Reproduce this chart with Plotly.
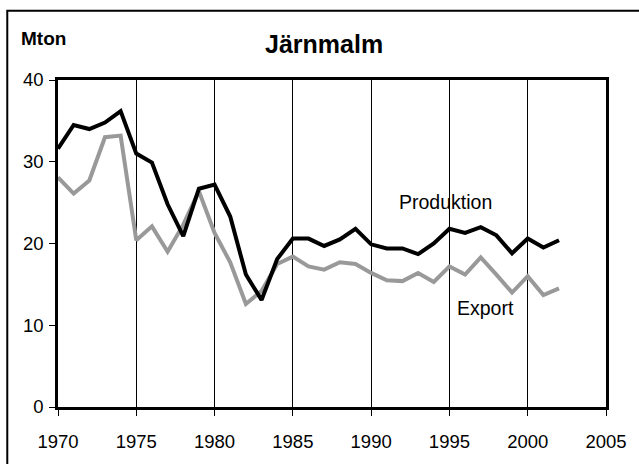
import plotly.graph_objects as go

years = list(range(1970, 2003))
produktion = [31.6, 34.5, 34.0, 34.8, 36.2, 31.0, 29.9, 24.8, 20.9, 26.7,
              27.2, 23.3, 16.2, 13.1, 18.1, 20.6, 20.6, 19.7, 20.5, 21.8,
              19.9, 19.4, 19.4, 18.7, 20.0, 21.8, 21.3, 22.0, 21.0, 18.8,
              20.6, 19.5, 20.4]
export = [28.1, 26.1, 27.7, 33.0, 33.2, 20.4, 22.1, 19.0, 22.3, 26.4,
          21.3, 17.7, 12.6, 14.2, 17.5, 18.4, 17.2, 16.8, 17.7, 17.5,
          16.4, 15.5, 15.4, 16.4, 15.3, 17.2, 16.2, 18.3, 16.2, 14.0,
          16.0, 13.7, 14.5]
x_ticks = [1970, 1975, 1980, 1985, 1990, 1995, 2000, 2005]
y_ticks = [0, 10, 20, 30, 40]

font = "Liberation Sans, Arial, sans-serif"

fig = go.Figure()
fig.add_trace(go.Scatter(x=years, y=export, mode="lines", name="Export",
                         line=dict(color="#999999", width=4), showlegend=False))
fig.add_trace(go.Scatter(x=years, y=produktion, mode="lines", name="Produktion",
                         line=dict(color="#000000", width=4), showlegend=False))

W, H = 639, 464
L, R, T, B = 58, 30, 80, 53
pw, ph = W - L - R, H - T - B

def px_x(p):
    return (p - L) / pw

def px_y(p):
    return (H - B - p) / ph

fig.update_layout(
    width=W, height=H,
    margin=dict(l=L, r=R, t=T, b=B),
    paper_bgcolor="white", plot_bgcolor="white",
    font=dict(family=font, size=18.5, color="black"),
    xaxis=dict(range=[1970, 2005], tickvals=x_ticks, ticks="outside", ticklen=6,
               tickwidth=1, tickcolor="black", showgrid=True, gridcolor="black",
               gridwidth=1, showline=True, linecolor="black", linewidth=2.5,
               mirror=True, zeroline=False, ticklabelstandoff=10),
    yaxis=dict(range=[0, 40], tickvals=y_ticks, ticks="outside", ticklen=6,
               tickwidth=1, tickcolor="black", showgrid=False,
               showline=True, linecolor="black", linewidth=2.5, mirror=True,
               zeroline=False, ticklabelstandoff=2),
    annotations=[
        dict(text="<b>Järnmalm</b>", x=px_x(325), y=px_y(44), xref="paper", yref="paper",
             showarrow=False, font=dict(size=25, family=font), xanchor="center", yanchor="middle"),
        dict(text="<b>Mton</b>", x=px_x(19), y=px_y(38), xref="paper", yref="paper",
             showarrow=False, font=dict(size=19, family=font), xanchor="left", yanchor="middle"),
        dict(text="Produktion", x=px_x(448), y=px_y(203), xref="paper", yref="paper",
             showarrow=False, font=dict(size=19.5, family=font), xanchor="center", yanchor="middle"),
        dict(text="Export", x=px_x(488), y=px_y(311), xref="paper", yref="paper",
             showarrow=False, font=dict(size=19.5, family=font), xanchor="center", yanchor="middle"),
    ],
    shapes=[
        dict(type="rect", xref="paper", yref="paper",
             x0=px_x(7), x1=px_x(645), y0=px_y(470), y1=px_y(10),
             line=dict(color="black", width=2), layer="below"),
    ],
)

fig.write_html("out.html", config={"displayModeBar": False},
               post_script="document.body.style.margin='0';document.body.style.overflow='hidden';")
